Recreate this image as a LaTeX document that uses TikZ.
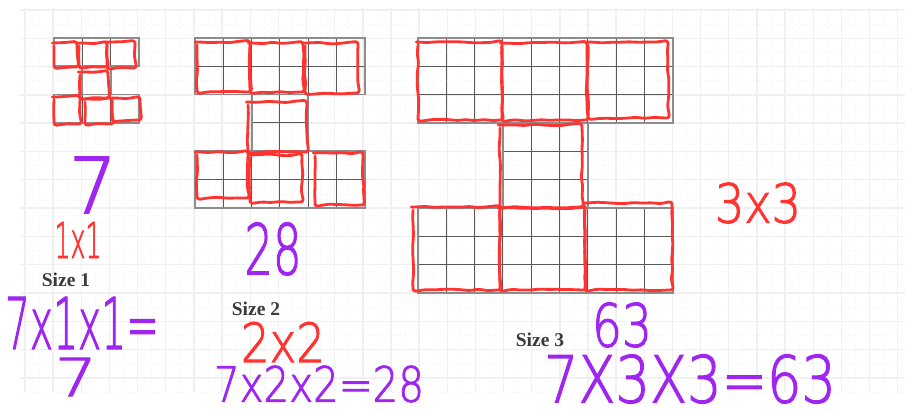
\documentclass[tikz,border=0pt]{standalone}
\usepackage{fontspec}
\setmainfont{Liberation Serif}
\newfontfamily\handfont[FakeBold=2]{DejaVuSans-ExtraLight.ttf}
\usepackage{tikz}
\usetikzlibrary{decorations.pathmorphing}

\definecolor{penred}{RGB}{255,52,48}
\definecolor{penviolet}{RGB}{158,38,240}
\definecolor{labelgray}{RGB}{58,58,58}

\newcommand{\cellsz}{28.3}
% one block of dark squared cells: x, y (top left), columns, rows
\newcommand{\cellblock}[4]{%
  \foreach \i in {1,...,#3} \draw[gridline] ({#1+\i*\cellsz},#2) -- ++(0,{#4*\cellsz});
  \foreach \j in {1,...,#4} \draw[gridline] (#1,{#2+\j*\cellsz}) -- ++({#3*\cellsz},0);
  \draw[gridframe] (#1,#2) rectangle ++({#3*\cellsz},{#4*\cellsz});
}

\begin{document}
\begin{tikzpicture}[
    x=1pt, y=-1pt,
    paper/.style={draw=gray!12, line width=1.4pt},
    paperminor/.style={draw=gray!6, line width=0.8pt, dashed},
    gridline/.style={draw=black!65, line width=1.1pt},
    gridframe/.style={draw=black!45, line width=1.8pt},
    pen/.style={draw=penred, line width=2.8pt, line cap=round, line join=round,
        decorate, decoration={random steps, segment length=9pt, amplitude=0.9pt},
        rounded corners=3pt},
    hand/.style={inner sep=0pt, font=\handfont},
    sizelabel/.style={inner sep=0pt, text=labelgray, font=\fontsize{19.5}{21}\selectfont\bfseries}
    ]
    \pgfmathsetseed{11}
    \useasboundingbox (0,0) rectangle (916,411);

    % squared paper
    \foreach \i in {0,...,31} \draw[paper] ({25+\i*28.15},8) -- ++(0,384);
    \foreach \j in {0,...,13} \draw[paper] (20,{10+\j*28.3}) -- (905,{10+\j*28.3});
    \foreach \i in {0,...,30} \draw[paperminor] ({39.1+\i*28.15},8) -- ++(0,384);
    \foreach \j in {0,...,13} \draw[paperminor] (20,{24.15+\j*28.3}) -- (905,{24.15+\j*28.3});

    % size 1
    \cellblock{54}{38}{3}{1}
    \cellblock{82.3}{66.3}{1}{1}
    \cellblock{54}{94.6}{3}{1}
    % size 2
    \cellblock{195}{38}{6}{2}
    \cellblock{251.6}{94.6}{2}{2}
    \cellblock{195}{151.2}{6}{2}
    % size 3
    \cellblock{418}{38}{9}{3}
    \cellblock{502.9}{122.9}{3}{3}
    \cellblock{418}{207.8}{9}{3}

    % red squares drawn over the cells
    \foreach \xa/\ya/\xb/\yb in {54/43/77/67, 79/43/107/67, 107/42/135/68, 80/72/108/98,
        54/97/80/124, 85/99/112/124, 112/98/140/120}
        \draw[pen] (\xa,\ya) rectangle (\xb,\yb);
    \foreach \xa/\ya/\xb/\yb in {197/42/250/92, 250/43/303/92, 305/43/358/93, 248/102/307/152,
        197/152/248/198, 250/155/302/202, 315/153/363/205}
        \draw[pen] (\xa,\ya) rectangle (\xb,\yb);
    \foreach \xa/\ya/\xb/\yb in {418/42/502/120, 502/43/587/120, 588/42/668/118, 500/125/582/207,
        413/207/500/290, 500/208/585/290, 585/203/672/290}
        \draw[pen] (\xa,\ya) rectangle (\xb,\yb);

    % counts and products
    \node[hand, text=penviolet] (n7) at (93,185) {\resizebox{48pt}{56pt}{7}};
    \node[hand, text=penred] (mult1) at (78,240) {\resizebox{47pt}{36pt}{1x1}};
    \node[sizelabel] (size1) at (66,280) {Size 1};
    \node[hand, text=penviolet] (eq1) at (82,323) {\resizebox{154pt}{52pt}{7x1x1=}};
    \node[hand, text=penviolet] (res1) at (76,377) {\resizebox{42pt}{38pt}{7}};

    \node[hand, text=penviolet] (n28) at (273,249) {\resizebox{57pt}{52pt}{28}};
    \node[sizelabel] (size2) at (256,309) {Size 2};
    \node[hand, text=penred] (mult2) at (283,342) {\resizebox{84pt}{40pt}{2x2}};
    \node[hand, text=penviolet] (eq2) at (319,384) {\resizebox{210pt}{36pt}{7x2x2=28}};

    \node[hand, text=penred] (mult3) at (758,203) {\resizebox{86pt}{40pt}{3x3}};
    \node[hand, text=penviolet] (n63) at (622,325) {\resizebox{60pt}{44pt}{63}};
    \node[sizelabel] (size3) at (540,340) {Size 3};
    \node[hand, text=penviolet] (eq3) at (690,379) {\resizebox{292pt}{48pt}{7X3X3=63}};
\end{tikzpicture}
\end{document}
